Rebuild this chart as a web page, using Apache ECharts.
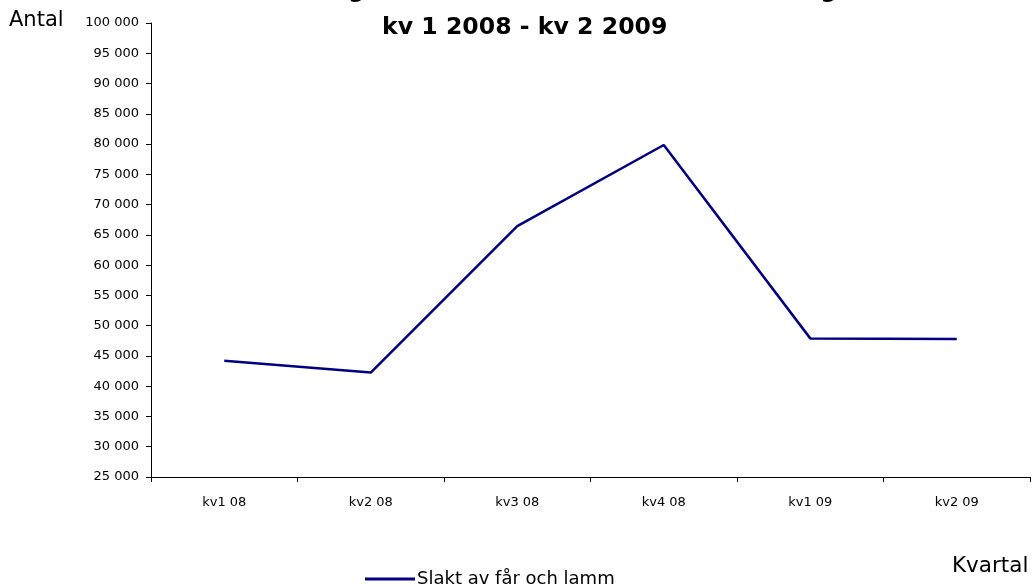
<!DOCTYPE html>
<html><head><meta charset="utf-8">
<script src="https://cdn.jsdelivr.net/npm/echarts@6/dist/echarts.min.js"></script>
<style>html,body{margin:0;padding:0;background:#fff}#c{width:1034px;height:587px}</style>
</head><body><div id="c"></div>
<script>
const categories = ['kv1 08', 'kv2 08', 'kv3 08', 'kv4 08', 'kv1 09', 'kv2 09'];
const slaktFarLamm = [44200, 42250, 66450, 79850, 47900, 47800];
const seriesName = 'Slakt av får och lamm';
const titleLine1 = 'Utveckling av slakt av får och lamm förändring';
const titleLine2 = 'kv 1 2008 - kv 2 2009';
const yAxisName = 'Antal';
const xAxisName = 'Kvartal';
const yMin = 25000, yMax = 100000, yStep = 5000;

const FONT = 'DejaVu Sans';
const fmt = v => String(v).replace(/\B(?=(\d{3})+(?!\d))/g, ' ');

const chart = echarts.init(document.getElementById('c'), null, {renderer: 'canvas'});
chart.setOption({
  animation: false,
  backgroundColor: '#fff',
  graphic: [
    {type: 'text', left: 227, top: -20, style: {text: titleLine1, font: 'bold 23px "DejaVu Sans"', fill: '#000'}},
    {type: 'text', left: 382, top: 16, style: {text: titleLine2, font: 'bold 23.6px "DejaVu Sans"', fill: '#000'}},
    {type: 'text', left: 9, top: 10, style: {text: yAxisName, font: '21px "DejaVu Sans"', fill: '#000'}},
    {type: 'text', left: 952, top: 555, style: {text: xAxisName, font: '21.5px "DejaVu Sans"', fill: '#000'}}
  ],
  grid: {left: 151, right: 4, top: 23, bottom: 110, containLabel: false},
  legend: {
    data: [seriesName], left: 360, top: 565,
    icon: 'rect', itemWidth: 50, itemHeight: 3, itemGap: 10,
    textStyle: {fontFamily: FONT, fontSize: 18, color: '#000', padding: [0,0,0,-3]}
  },
  xAxis: {
    type: 'category', data: categories, boundaryGap: true,
    axisLine: {lineStyle: {color: '#000', width: 1}},
    axisTick: {show: true, length: 5, inside: false, lineStyle: {color: '#000'}},
    axisLabel: {fontFamily: FONT, fontSize: 13, color: '#000', margin: 19},
    splitLine: {show: false}
  },
  yAxis: {
    type: 'value', min: yMin, max: yMax, interval: yStep,
    axisLine: {show: true, lineStyle: {color: '#000', width: 1}},
    axisTick: {show: true, length: 5, lineStyle: {color: '#000'}},
    axisLabel: {fontFamily: FONT, fontSize: 13, color: '#000', margin: 12, formatter: fmt},
    splitLine: {show: false}
  },
  series: [{
    name: seriesName, type: 'line', data: slaktFarLamm,
    symbol: 'none', showSymbol: false,
    lineStyle: {color: '#000080', width: 2.5},
    itemStyle: {color: '#000080'}
  }]
});
</script></body></html>
